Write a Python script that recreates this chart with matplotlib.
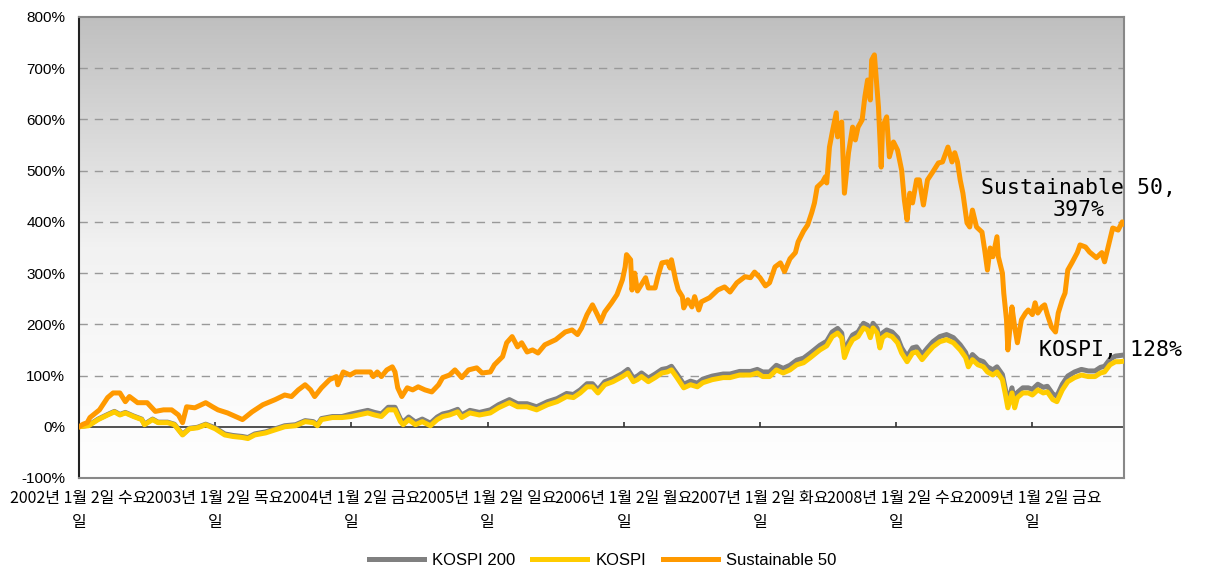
import numpy as np
import matplotlib
matplotlib.use("Agg")
import matplotlib.pyplot as plt
from matplotlib.colors import LinearSegmentedColormap

# x in decimal years (2002.00 = 2002-01-02), values = cumulative return in %
s50_t = [2002.00, 2002.03, 2002.06, 2002.08, 2002.15, 2002.21, 2002.25, 2002.30, 2002.34, 2002.37, 2002.43,
         2002.50, 2002.56, 2002.62, 2002.68, 2002.73, 2002.76, 2002.79, 2002.85, 2002.93, 2002.98,
         2003.02, 2003.09, 2003.20, 2003.27, 2003.35, 2003.44, 2003.51, 2003.56, 2003.61, 2003.66, 2003.70,
         2003.73, 2003.78, 2003.84, 2003.89, 2003.90, 2003.94, 2003.99,
         2004.03, 2004.10, 2004.14, 2004.16, 2004.19, 2004.22, 2004.26, 2004.30, 2004.32, 2004.34, 2004.37,
         2004.41, 2004.45, 2004.49, 2004.54, 2004.59, 2004.64, 2004.67, 2004.72, 2004.76, 2004.81, 2004.86,
         2004.92, 2004.96,
         2005.02, 2005.05, 2005.11, 2005.14, 2005.18, 2005.22, 2005.25, 2005.29, 2005.33, 2005.37, 2005.42,
         2005.50, 2005.57, 2005.62, 2005.66, 2005.69, 2005.73, 2005.77, 2005.80, 2005.83, 2005.86, 2005.91,
         2005.95, 2005.99,
         2006.01, 2006.02, 2006.05, 2006.06, 2006.08, 2006.10, 2006.16, 2006.18, 2006.23, 2006.25, 2006.28,
         2006.32, 2006.34, 2006.35, 2006.38, 2006.40, 2006.43, 2006.44, 2006.47, 2006.50, 2006.52, 2006.55,
         2006.57, 2006.63, 2006.69, 2006.74, 2006.78, 2006.83, 2006.89, 2006.93, 2006.96,
         2007.00, 2007.04, 2007.07, 2007.11, 2007.15, 2007.18, 2007.22, 2007.26, 2007.28, 2007.32, 2007.35,
         2007.38, 2007.40, 2007.42, 2007.46, 2007.48, 2007.49, 2007.51, 2007.53, 2007.56, 2007.57, 2007.60,
         2007.62, 2007.65, 2007.68, 2007.70, 2007.72, 2007.75, 2007.77, 2007.79, 2007.81, 2007.82, 2007.84,
         2007.87, 2007.89, 2007.90, 2007.93, 2007.95, 2007.98,
         2008.01, 2008.04, 2008.06, 2008.08, 2008.10, 2008.12, 2008.15, 2008.17, 2008.20, 2008.23, 2008.27,
         2008.31, 2008.34, 2008.38, 2008.41, 2008.43, 2008.45, 2008.47, 2008.49, 2008.52, 2008.54, 2008.56,
         2008.59, 2008.63, 2008.65, 2008.67, 2008.69, 2008.71, 2008.74, 2008.75, 2008.78, 2008.79, 2008.81,
         2008.82, 2008.85, 2008.87, 2008.89, 2008.92, 2008.95, 2008.97,
         2009.00, 2009.02, 2009.04, 2009.07, 2009.09, 2009.11, 2009.14, 2009.17, 2009.19, 2009.22, 2009.24,
         2009.26, 2009.29, 2009.33, 2009.35, 2009.39, 2009.42, 2009.47, 2009.51, 2009.53, 2009.56, 2009.59,
         2009.63, 2009.66, 2009.67]
s50_v = [0, 5, 8, 18, 33, 57, 66, 66, 49, 59, 47, 47, 30, 33, 33, 23, 8, 39, 37, 47, 39,
         33, 27, 14, 29, 43, 53, 62, 59, 72, 82, 72, 59, 76, 92, 98, 82, 107, 101,
         107, 107, 107, 98, 107, 98, 111, 117, 107, 76, 59, 76, 72, 78, 72, 68, 82, 96, 101, 111, 96, 111,
         115, 105,
         107, 121, 137, 164, 176, 156, 164, 146, 150, 144, 160, 170, 185, 189, 180, 193, 219, 238, 222, 205,
         224, 242, 258, 287,
         312, 336, 326, 267, 300, 265, 291, 271, 271, 293, 320, 322, 310, 326, 287, 267, 254, 232, 248, 234,
         254, 228, 244, 252, 267, 273, 263, 281, 293, 291, 302,
         291, 275, 281, 312, 320, 303, 328, 340, 361, 382, 394, 418, 437, 468, 478, 488, 476, 546, 574, 613,
         566, 595, 456, 535, 585, 560, 585, 599, 644, 677, 638, 716, 726, 624, 507, 585, 605, 527, 556,
         540, 501, 443, 404, 456, 437, 482, 482, 433, 482, 498, 515, 517, 546, 517, 535, 517, 482, 456, 398,
         390, 423, 390, 380, 345, 306, 349, 332, 371, 332, 300, 261, 209, 150, 234, 195, 164, 209, 222, 228,
         219, 242, 222, 234, 238, 219, 195, 185, 222, 248, 261, 306, 320, 340, 355, 351, 341, 330, 340, 322,
         355, 388, 384, 400, 397]

kospi_t = [2002.00, 2002.07, 2002.14, 2002.21, 2002.26, 2002.30, 2002.34, 2002.40, 2002.46, 2002.48, 2002.54,
           2002.58, 2002.65, 2002.70, 2002.76, 2002.81, 2002.87, 2002.93,
           2003.00, 2003.07, 2003.13, 2003.20, 2003.24, 2003.29, 2003.37, 2003.44, 2003.51, 2003.59, 2003.66,
           2003.72, 2003.75, 2003.78, 2003.86, 2003.93,
           2004.00, 2004.05, 2004.12, 2004.17, 2004.22, 2004.27, 2004.32, 2004.36, 2004.38, 2004.42, 2004.47,
           2004.52, 2004.58, 2004.63, 2004.67, 2004.72, 2004.78, 2004.81, 2004.87, 2004.94,
           2005.02, 2005.08, 2005.16, 2005.22, 2005.29, 2005.36, 2005.44, 2005.51, 2005.58, 2005.63, 2005.68,
           2005.73, 2005.77, 2005.81, 2005.86, 2005.92, 2005.99,
           2006.03, 2006.07, 2006.10, 2006.13, 2006.18, 2006.23, 2006.28, 2006.32, 2006.35, 2006.39, 2006.44,
           2006.49, 2006.54, 2006.58, 2006.65, 2006.73, 2006.78, 2006.85, 2006.93, 2006.98,
           2007.02, 2007.07, 2007.12, 2007.17, 2007.22, 2007.27, 2007.32, 2007.37, 2007.44, 2007.49, 2007.53,
           2007.57, 2007.60, 2007.62, 2007.65, 2007.68, 2007.72, 2007.76, 2007.79, 2007.81, 2007.83, 2007.86,
           2007.88, 2007.90, 2007.93, 2007.97,
           2008.01, 2008.04, 2008.08, 2008.12, 2008.15, 2008.19, 2008.23, 2008.27, 2008.32, 2008.37, 2008.42,
           2008.47, 2008.51, 2008.53, 2008.56, 2008.60, 2008.64, 2008.67, 2008.71, 2008.74, 2008.78, 2008.80,
           2008.82, 2008.85, 2008.87, 2008.89, 2008.93, 2008.97,
           2009.00, 2009.04, 2009.08, 2009.11, 2009.15, 2009.18, 2009.22, 2009.26, 2009.31, 2009.36, 2009.41,
           2009.46, 2009.50, 2009.53, 2009.57, 2009.61, 2009.64, 2009.67]
kospi_v = [0, 2, 14, 23, 29, 23, 27, 20, 14, 4, 14, 8, 8, 4, -16, -4, -2, 4,
           -4, -16, -19, -21, -23, -16, -12, -6, 0, 2, 10, 8, 2, 14, 18, 18,
           20, 23, 27, 23, 20, 33, 33, 10, 4, 14, 4, 10, 2, 14, 20, 23, 29, 18, 27, 23,
           27, 37, 47, 39, 39, 33, 43, 49, 59, 57, 66, 78, 78, 66, 82, 88, 98,
           105, 88, 92, 98, 88, 96, 105, 107, 111, 96, 76, 82, 78, 86, 92, 96, 96, 101, 101, 105,
           98, 98, 111, 105, 111, 121, 125, 135, 150, 158, 176, 183, 174, 135, 156, 170, 176, 193, 189, 174,
           193, 183, 154, 174, 180, 176,
           164, 144, 127, 144, 146, 131, 144, 156, 166, 170, 164, 150, 135, 117, 131, 121, 117, 107, 101, 107,
           92, 66, 37, 66, 37, 57, 66, 66,
           62, 72, 66, 68, 53, 49, 72, 88, 96, 101, 98, 98, 105, 107, 121, 127, 127, 128]
# KOSPI 200 read on the same dates as KOSPI
k200_v = [0, 3, 15, 24, 30, 24, 28, 21, 15, 5, 15, 9, 9, 5, -15, -3, -1, 5,
          -2, -14, -17, -19, -21, -14, -10, -4, 2, 4, 12, 10, 4, 16, 20, 20,
          25, 28, 32, 28, 25, 38, 38, 15, 9, 19, 9, 15, 7, 19, 25, 28, 34, 23, 32, 28,
          33, 43, 53, 45, 45, 39, 49, 55, 65, 63, 72, 84, 84, 72, 88, 94, 104,
          112, 95, 99, 105, 95, 103, 112, 114, 118, 103, 83, 89, 85, 93, 99, 103, 103, 108, 108, 112,
          107, 107, 120, 114, 120, 130, 134, 144, 159, 167, 185, 192, 183, 144, 165, 179, 185, 202, 198, 183,
          202, 192, 163, 183, 189, 185,
          174, 154, 137, 154, 156, 141, 154, 166, 176, 180, 174, 160, 145, 127, 141, 131, 127, 117, 111, 117,
          102, 76, 47, 76, 47, 67, 76, 76,
          73, 83, 77, 79, 64, 60, 83, 99, 107, 112, 109, 109, 116, 118, 132, 138, 139, 140]

year_ticks = [2002, 2003, 2004, 2005, 2006, 2007, 2008, 2009]
year_labels = ['2002년 1월 2일 수요\n일', '2003년 1월 2일 목요\n일', '2004년 1월 2일 금요\n일',
               '2005년 1월 2일 일요\n일', '2006년 1월 2일 월요\n일', '2007년 1월 2일 화요\n일',
               '2008년 1월 2일 수요\n일', '2009년 1월 2일 금요\n일']
y_ticks = [-100, 0, 100, 200, 300, 400, 500, 600, 700, 800]

plt.rcParams['font.family'] = ['Liberation Sans', 'DejaVu Sans']

fig = plt.figure(figsize=(12.05, 5.66), dpi=100)
ax = fig.add_axes([0.0656, 0.1555, 0.8672, 0.8145])

x_end = 2009.673
ax.set_xlim(2002.0, x_end)
ax.set_ylim(-100, 800)

# grey-to-white background gradient
cmap = LinearSegmentedColormap.from_list('bg', ['#FFFFFF', '#F2F2F2', '#BFBFBF'])
grad = np.linspace(0, 1, 256)[:, None]
ax.imshow(grad, extent=[2002.0, x_end, -100, 800], aspect='auto', origin='lower',
          cmap=cmap, zorder=0)

for yv in y_ticks[2:-1]:
    ax.axhline(yv, color='#999999', lw=1, ls=(0, (6, 5)), zorder=1)
ax.axhline(0, color='#333333', lw=1.2, zorder=2)
ax.vlines(year_ticks, 0, 9, color='#333333', lw=1.2, zorder=2)

ax.plot(kospi_t, k200_v, color='#808080', lw=3.6, label='KOSPI 200', zorder=3)
ax.plot(kospi_t, kospi_v, color='#FFCC00', lw=3.6, label='KOSPI', zorder=4)
ax.plot(s50_t, s50_v, color='#FF9900', lw=3.6, label='Sustainable 50', zorder=5)

ax.set_yticks(y_ticks)
ax.set_yticklabels(['%d%%' % v for v in y_ticks], fontsize=11)
ax.tick_params(axis='y', length=0, pad=10)

ax.set_xticks(year_ticks)
ax.set_xticklabels(year_labels, fontsize=11.5, linespacing=1.5,
                   family=['Noto Sans CJK KR', 'DejaVu Sans'])
ax.tick_params(axis='x', length=0, pad=9)

for side in ['top', 'right', 'bottom']:
    ax.spines[side].set_color('#888888')
    ax.spines[side].set_linewidth(1.5)
ax.spines['left'].set_color('#222222')
ax.spines['left'].set_linewidth(1.5)

ax.text(2009.34, 445, 'Sustainable 50,\n397%', ha='center', va='center', fontsize=15.5,
        family='DejaVu Sans Mono', linespacing=1.15, clip_on=False, zorder=6)
ax.text(2009.577, 150, 'KOSPI, 128%', ha='center', va='center', fontsize=15.5,
        family='DejaVu Sans Mono', clip_on=False, zorder=6)

ax.legend(loc='lower center', bbox_to_anchor=(0.5, -0.03), bbox_transform=fig.transFigure,
          ncol=3, frameon=False, fontsize=12, handlelength=3.3, columnspacing=1.0,
          handletextpad=0.5)

fig.savefig('out.png', dpi=100)
